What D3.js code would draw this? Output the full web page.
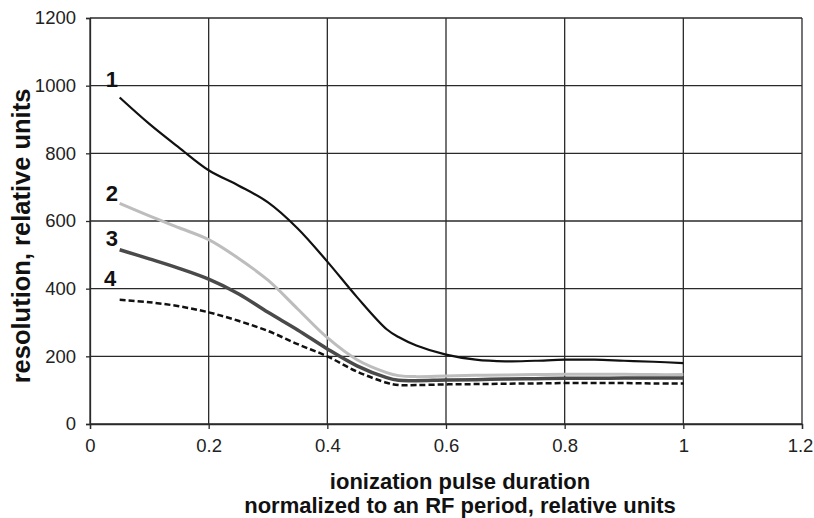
<!DOCTYPE html>
<html>
<head>
<meta charset="utf-8">
<script src="https://cdn.jsdelivr.net/npm/d3@7"></script>
<style>
  body { margin: 0; background: #fff; }
  svg { display: block; font-family: "Liberation Sans", Arial, sans-serif; }
</style>
</head>
<body>
<svg id="chart" width="814" height="518"></svg>
<script>
// x: ionization pulse duration (normalized), y: resolution
var pulse = [0.05, 0.1, 0.15, 0.2, 0.25, 0.3, 0.35, 0.4, 0.45, 0.5, 0.52, 0.55, 0.6, 0.65, 0.7, 0.75, 0.8, 0.85, 0.9, 0.95, 1.0];
var curve1 = [965, 887, 817, 750, 705, 655, 578, 480, 375, 280, 257, 232, 205, 190, 185, 187, 190, 190, 187, 184, 180];
var curve2 = [652, 615, 580, 545, 490, 425, 340, 255, 190, 152, 143, 140, 142, 144, 145, 146, 147, 147, 147, 146, 146];
var curve3 = [515, 488, 460, 428, 385, 330, 278, 222, 172, 137, 129, 128, 130, 131, 133, 134, 135, 135, 136, 136, 136];
var curve4 = [367, 360, 348, 330, 305, 275, 236, 200, 155, 122, 115, 115, 117, 118, 119, 120, 121, 121, 121, 120, 120];

var curveNames = ["1", "2", "3", "4"];
var labelX = [0.037, 0.037, 0.037, 0.034];
var labelY = [997, 659, 527, 409];

var xTicks = [0, 0.2, 0.4, 0.6, 0.8, 1, 1.2];
var yTicks = [0, 200, 400, 600, 800, 1000, 1200];

var margin = { top: 18, right: 12, bottom: 94, left: 90 };
var W = 814, H = 518;
var w = W - margin.left - margin.right;
var h = H - margin.top - margin.bottom;

var svg = d3.select("#chart");
var g = svg.append("g").attr("transform", "translate(" + margin.left + "," + margin.top + ")");

var x = d3.scaleLinear().domain([0, 1.2]).range([0, w]);
var y = d3.scaleLinear().domain([0, 1200]).range([h, 0]);

// grid
g.append("g").selectAll("line").data(yTicks).enter().append("line")
  .attr("x1", 0).attr("x2", w)
  .attr("y1", function(d) { return y(d); }).attr("y2", function(d) { return y(d); })
  .attr("stroke", "#2a2a2a").attr("stroke-width", 1.3);
g.append("g").selectAll("line").data(xTicks).enter().append("line")
  .attr("y1", 0).attr("y2", h)
  .attr("x1", function(d) { return x(d); }).attr("x2", function(d) { return x(d); })
  .attr("stroke", "#2a2a2a").attr("stroke-width", 1.3);

// axes
var fmt = function(d) { return String(+d.toFixed(1)); };
var xAxis = g.append("g")
  .attr("transform", "translate(0," + h + ")")
  .call(d3.axisBottom(x).tickValues(xTicks).tickFormat(fmt).tickSize(5).tickPadding(10));
var yAxis = g.append("g")
  .call(d3.axisLeft(y).tickValues(yTicks).tickFormat(d3.format("d")).tickSize(4).tickPadding(10));

[xAxis, yAxis].forEach(function(a) {
  a.select(".domain").attr("stroke", "#2a2a2a").attr("stroke-width", 1.3);
  a.selectAll(".tick line").attr("stroke", "#2a2a2a").attr("stroke-width", 1.3);
  a.selectAll("text")
    .style("font-family", "'Liberation Sans', Arial, sans-serif")
    .style("font-size", "18.5px")
    .attr("fill", "#222");
});
// last x label sits against the page edge
xAxis.selectAll(".tick text").filter(function(d) { return d === 1.2; }).attr("dx", -2);

// curves
var series = [
  { values: curve1, color: "#111", width: 2.2, dash: null },
  { values: curve2, color: "#bdbdbd", width: 3, dash: null },
  { values: curve3, color: "#4a4a4a", width: 3.5, dash: null },
  { values: curve4, color: "#111", width: 2.5, dash: "6,3" }
];

var line = d3.line()
  .x(function(d) { return x(d[0]); })
  .y(function(d) { return y(d[1]); })
  .curve(d3.curveCatmullRom.alpha(0.5));

g.selectAll(".curve").data(series).enter().append("path")
  .attr("class", "curve")
  .attr("fill", "none")
  .attr("stroke", function(s) { return s.color; })
  .attr("stroke-width", function(s) { return s.width; })
  .attr("stroke-dasharray", function(s) { return s.dash; })
  .attr("d", function(s) { return line(pulse.map(function(p, i) { return [p, s.values[i]]; })); });

// curve numbers
g.selectAll(".num").data(curveNames).enter().append("text")
  .attr("class", "num")
  .attr("x", function(d, i) { return x(labelX[i]); })
  .attr("y", function(d, i) { return y(labelY[i]); })
  .attr("text-anchor", "middle")
  .style("font-size", "22px")
  .style("font-weight", "bold")
  .attr("fill", "#111")
  .text(function(d) { return d; });

// axis titles
var xt = svg.append("text")
  .attr("text-anchor", "middle")
  .style("font-size", "22px")
  .style("font-weight", "bold")
  .attr("fill", "#111");
xt.append("tspan").attr("x", 460).attr("y", 489).text("ionization pulse duration");
xt.append("tspan").attr("x", 460).attr("y", 513).text("normalized to an RF period, relative units");

svg.append("text")
  .attr("transform", "translate(30,236) rotate(-90)")
  .attr("text-anchor", "middle")
  .style("font-size", "25.5px")
  .style("font-weight", "bold")
  .attr("fill", "#111")
  .text("resolution, relative units");
</script>
</body>
</html>
